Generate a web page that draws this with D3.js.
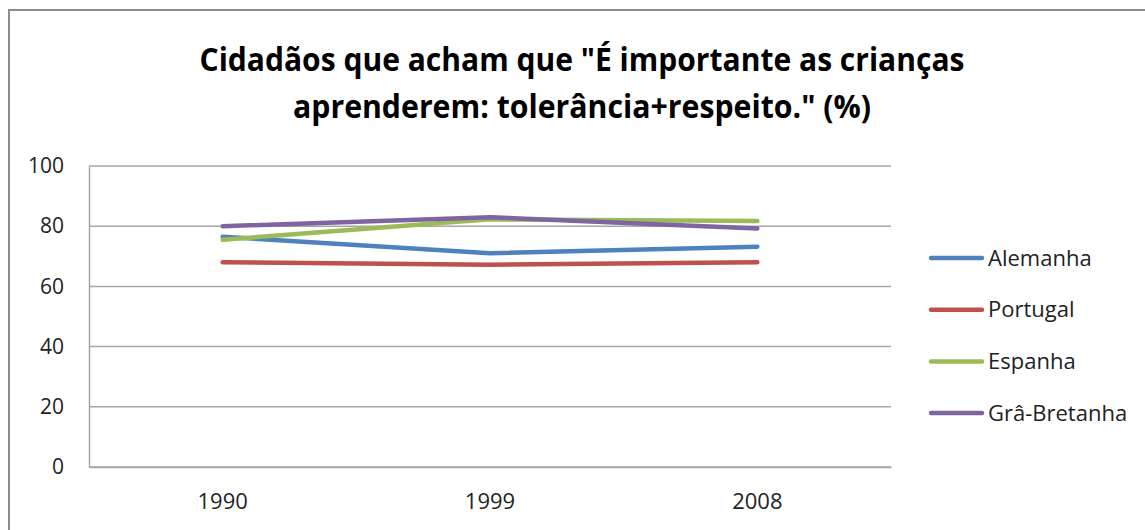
<!DOCTYPE html>
<html>
<head>
<meta charset="utf-8">
<script src="https://cdn.jsdelivr.net/npm/d3@7"></script>
<style>
  html, body { margin: 0; padding: 0; background: #fff; }
  svg { display: block; }
</style>
</head>
<body>
<svg id="chart" width="1145" height="530"></svg>
<script>
const titleLines = ['Cidadãos que acham que "É importante as crianças', 'aprenderem: tolerância+respeito." (%)'];
const categories = ["1990", "1999", "2008"];
const seriesNames = ["Alemanha", "Portugal", "Espanha", "Grâ-Bretanha"];
const alemanha = [76.5, 71, 73.2];
const portugal = [68, 67.2, 68];
const espanha = [75.5, 82.3, 81.7];
const graBretanha = [80, 83, 79.2];
const yTicks = [0, 20, 40, 60, 80, 100];
const colors = ["#4F81BD", "#C0504D", "#9BBB59", "#8064A2"];

const seriesValues = [alemanha, portugal, espanha, graBretanha];
const series = seriesNames.map((n, i) => ({ name: n, values: seriesValues[i], color: colors[i] }));

const svg = d3.select("#chart");

// outer chart border
svg.append("rect")
  .attr("x", 9).attr("y", 10)
  .attr("width", 1200).attr("height", 600)
  .attr("fill", "#fff")
  .attr("stroke", "#8c8c8c").attr("stroke-width", 2);

// title
const titleWidths = [765, 578];
svg.append("g").selectAll("text").data(titleLines).join("text")
  .attr("x", 582)
  .attr("y", (d, i) => 71 + i * 47)
  .attr("text-anchor", "middle")
  .attr("font-family", "'Open Sans', sans-serif")
  .attr("font-weight", "bold")
  .attr("font-size", 32)
  .attr("fill", "#000")
  .attr("textLength", (d, i) => titleWidths[i])
  .attr("lengthAdjust", "spacingAndGlyphs")
  .text(d => d);

const plot = { left: 89, right: 891, top: 166, bottom: 467 };

const x = d3.scaleBand().domain(categories).range([plot.left, plot.right]);
const y = d3.scaleLinear().domain([0, 100]).range([plot.bottom, plot.top]);

// gridlines
svg.append("g").selectAll("line").data(yTicks).join("line")
  .attr("x1", plot.left).attr("x2", plot.right)
  .attr("y1", d => y(d)).attr("y2", d => y(d))
  .attr("stroke", "#a6a6a6").attr("stroke-width", 1.5);

// y axis
const yAxis = svg.append("g")
  .attr("transform", `translate(${plot.left},0)`)
  .call(d3.axisLeft(y).tickValues(yTicks).tickSize(0).tickPadding(25));
yAxis.select(".domain").attr("stroke", "#a6a6a6").attr("stroke-width", 1.5);
yAxis.selectAll("text")
  .attr("font-family", "'Open Sans', sans-serif")
  .attr("font-size", 21)
  .attr("fill", "#222");

// x axis
const xAxis = svg.append("g")
  .attr("transform", `translate(0,${plot.bottom})`)
  .call(d3.axisBottom(x).tickSize(0).tickPadding(26));
xAxis.select(".domain").attr("stroke", "#a6a6a6").attr("stroke-width", 1.5);
xAxis.selectAll("text")
  .attr("font-family", "'Open Sans', sans-serif")
  .attr("font-size", 22)
  .attr("fill", "#222");

// lines
const line = d3.line()
  .x((d, i) => x(categories[i]) + x.bandwidth() / 2)
  .y(d => y(d));

svg.append("g").selectAll("path").data(series).join("path")
  .attr("d", d => line(d.values))
  .attr("fill", "none")
  .attr("stroke", d => d.color)
  .attr("stroke-width", 4.5)
  .attr("stroke-linecap", "round")
  .attr("stroke-linejoin", "round");

// legend
const legend = svg.append("g").selectAll("g").data(series).join("g")
  .attr("transform", (d, i) => `translate(931,${258 + i * 51.7})`);
legend.append("line")
  .attr("x1", 0).attr("x2", 51)
  .attr("y1", 0).attr("y2", 0)
  .attr("stroke", d => d.color)
  .attr("stroke-width", 4.5)
  .attr("stroke-linecap", "round");
legend.append("text")
  .attr("x", 57).attr("y", 0)
  .attr("dy", "0.35em")
  .attr("font-family", "'Open Sans', sans-serif")
  .attr("font-size", 22)
  .attr("fill", "#222")
  .text(d => d.name);
</script>
</body>
</html>
